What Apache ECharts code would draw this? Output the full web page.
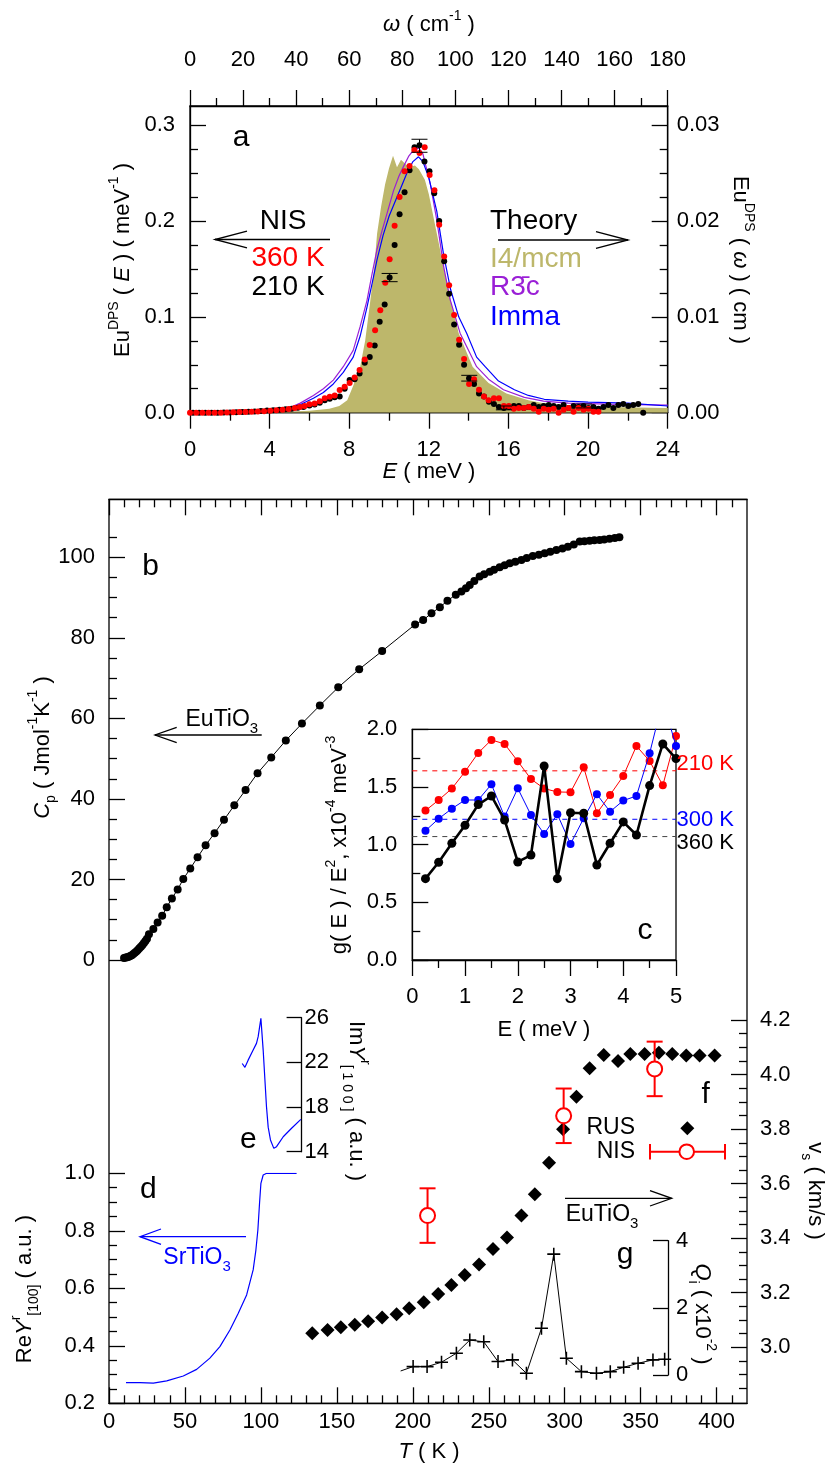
<!DOCTYPE html>
<html>
<head>
<meta charset="utf-8">
<script src="https://cdn.jsdelivr.net/npm/echarts@6/dist/echarts.min.js"></script>
<style>
html,body{margin:0;padding:0;background:#fff;overflow:hidden;}
#main{width:829px;height:1466px;}
</style>
</head>
<body>
<div id="main"></div>
<script>
// ---------- panel a : Eu partial phonon DOS ----------
const ticksE = [0, 4, 8, 12, 16, 20, 24];
const ticksW = [0, 20, 40, 60, 80, 100, 120, 140, 160, 180];
const ticksA = [0, 0.1, 0.2, 0.3];
const ticksA2 = [0, 0.01, 0.02, 0.03];

const dos360 = [[0,0],[0.31,0],[0.62,0],[0.93,0],[1.24,0],[1.55,0],[1.86,0.0003],[2.17,0.0004],[2.48,0.0006],[2.79,0.0008],[3.1,0.001],[3.41,0.0013],[3.72,0.0016],[4.03,0.002],[4.34,0.0025],[4.65,0.003],[4.96,0.0038],[5.27,0.0048],[5.52,0.006],[5.76,0.007],[6.0,0.0087],[6.26,0.0097],[6.52,0.012],[6.77,0.015],[7.02,0.0167],[7.27,0.018],[7.52,0.0236],[7.77,0.027],[8.02,0.031],[8.27,0.0368],[8.52,0.0445],[8.78,0.0556],[9.03,0.0706],[9.3,0.086],[9.56,0.107],[9.81,0.1356],[10.03,0.16],[10.28,0.195],[10.53,0.225],[10.78,0.252],[11.03,0.2575],[11.27,0.274],[11.53,0.271],[11.79,0.277],[12.04,0.248],[12.28,0.232],[12.52,0.196],[12.77,0.163],[13.02,0.133],[13.27,0.102],[13.52,0.076],[13.77,0.056],[14.02,0.03],[14.27,0.035],[14.52,0.024],[14.77,0.017],[15.0,0.013],[15.27,0.015],[15.52,0.015],[15.77,0.007],[16.02,0.007],[16.27,0.004],[16.52,0.005],[16.77,0.005],[17.02,0.006],[17.27,0.004],[17.52,0.001],[17.77,0.004],[18.02,0.003],[18.27,0.004],[18.52,0.0],[18.77,0.003],[19.02,0.005],[19.27,0.001],[19.52,0.005],[19.77,0.003],[20.02,0.004],[20.27,0.001],[20.52,0.001]];

const dos210 = [[0.15,0],[0.46,0],[0.77,0],[1.08,0],[1.39,0],[1.7,0.0002],[2.01,0.0003],[2.32,0.0005],[2.63,0.0007],[2.94,0.001],[3.25,0.0013],[3.56,0.0018],[3.87,0.0022],[4.18,0.0026],[4.49,0.003],[4.8,0.0036],[5.11,0.0042],[5.42,0.0052],[5.7,0.006],[6.0,0.0075],[6.26,0.0085],[6.52,0.0105],[6.77,0.013],[7.02,0.0145],[7.27,0.016],[7.52,0.017],[7.77,0.025],[8.02,0.034],[8.27,0.035],[8.52,0.041],[8.78,0.052],[9.03,0.058],[9.28,0.07],[9.53,0.095],[9.78,0.113],[10.03,0.141],[10.28,0.175],[10.53,0.207],[10.78,0.23],[11.03,0.253],[11.28,0.277],[11.53,0.279],[11.78,0.262],[12.03,0.252],[12.27,0.229],[12.52,0.2],[12.77,0.158],[13.02,0.124],[13.27,0.092],[13.52,0.071],[13.77,0.05],[14.02,0.036],[14.27,0.03],[14.52,0.02],[14.77,0.017],[15.02,0.0115],[15.27,0.009],[15.52,0.006],[15.77,0.005],[16.02,0.006],[16.27,0.007],[16.52,0.007],[16.77,0.005],[17.02,0.006],[17.27,0.008],[17.52,0.006],[17.77,0.007],[18.02,0.008],[18.27,0.007],[18.52,0.006],[18.77,0.008],[19.02,0.005],[19.27,0.007],[19.52,0.006],[19.77,0.007],[20.02,0.005],[20.27,0.006],[20.52,0.004],[20.77,0.006],[21.02,0.008],[21.27,0.005],[21.52,0.008],[21.77,0.009],[22.02,0.007],[22.27,0.008],[22.52,0.009],[22.77,0.0]];

// [E, value, error]
const err210 = [[10.03,0.141,0.0043],[11.53,0.2785,0.0068],[14.03,0.036,0.003],[15.77,0.005,0.002],[19.8,0.007,0.002]];

const dosI4mcm = [[0,0],[2,0],[4,0.0005],[5,0.001],[6,0.002],[6.5,0.003],[7,0.004],[7.5,0.007],[7.9,0.013],[8.2,0.028],[8.55,0.048],[8.8,0.075],[9.06,0.117],[9.25,0.15],[9.4,0.187],[9.6,0.215],[9.8,0.238],[10.0,0.255],[10.2,0.268],[10.4,0.256],[10.6,0.264],[10.8,0.26],[11.0,0.256],[11.3,0.258],[11.5,0.254],[11.8,0.243],[12.0,0.228],[12.4,0.187],[12.74,0.152],[13.1,0.117],[13.5,0.083],[14.2,0.048],[15.0,0.031],[15.9,0.02],[17.0,0.013],[17.7,0.01],[19,0.007],[21,0.006],[24,0.005]];

const dosR3c = [[0,0],[2,0.0005],[4,0.002],[5,0.005],[5.54,0.01],[6.2,0.018],[6.7,0.025],[7.2,0.034],[7.7,0.048],[8.2,0.065],[8.55,0.09],[8.89,0.117],[9.15,0.145],[9.39,0.17],[9.65,0.19],[9.9,0.208],[10.23,0.232],[10.5,0.247],[10.73,0.257],[11.0,0.268],[11.23,0.274],[11.5,0.276],[11.7,0.27],[12.07,0.239],[12.4,0.201],[12.74,0.153],[13.07,0.118],[13.57,0.083],[14.4,0.048],[15.0,0.035],[15.75,0.024],[16.8,0.016],[17.76,0.012],[19,0.01],[21,0.009],[24,0.008]];

const dosImma = [[0,0],[2,0.0005],[4,0.002],[5,0.004],[5.5,0.008],[6.2,0.015],[6.7,0.021],[7.2,0.03],[7.7,0.042],[8.2,0.058],[8.55,0.08],[8.89,0.11],[9.15,0.135],[9.4,0.16],[9.7,0.185],[10.0,0.205],[10.4,0.225],[10.6,0.235],[10.9,0.25],[11.2,0.262],[11.48,0.267],[11.7,0.262],[12.0,0.245],[12.4,0.21],[12.74,0.165],[13.1,0.128],[13.5,0.1],[13.9,0.083],[14.4,0.058],[14.83,0.048],[15.5,0.033],[16.3,0.024],[17.0,0.018],[17.8,0.014],[19,0.012],[20,0.011],[22,0.01],[24,0.007]];

// ---------- panel b : heat capacity ----------
const ticksT = [0, 50, 100, 150, 200, 250, 300, 350, 400];
const ticksCp = [0, 20, 40, 60, 80, 100];
const cpT = [9.9,11,12,13,14,15,16,17,18,19,20,21,22,23,24,25,26.3,29.2,32,35,38,41.4,45.2,48.9,53.5,58.3,63.6,69.5,75.7,82.5,89.9,97.8,106.8,116.4,127,138.8,150.9,164.7,179.8,201.5,206.8,212.3,217.8,222.8,228.3,232,235,237.5,240.5,244,247,250.7,253.5,257.2,260.5,263.8,267.5,271.5,275,279,283,286.8,290.5,294.5,298.5,302.1,306,309.9,313,316.4,319.5,323,326,329.5,333,336];
const cpV = [0.5,0.6,0.7,0.8,1.0,1.2,1.5,1.8,2.1,2.5,2.9,3.3,3.7,4.2,4.7,5.3,6.4,7.7,9.3,11.0,13.1,15.3,17.5,20.1,22.7,25.5,28.5,31.5,34.8,38.4,42.2,46.4,50.3,54.5,58.7,63.2,67.7,72.2,76.7,83.3,84.4,86.1,87.6,89.2,90.7,91.5,92.3,93.1,94.1,95.2,95.8,96.4,96.9,97.5,98.0,98.5,98.9,99.3,99.8,100.3,100.6,101.0,101.4,101.8,102.2,102.6,103.2,103.9,104.0,104.1,104.2,104.3,104.4,104.6,104.8,105.0];

// ---------- panel c : g(E)/E^2 inset ----------
const ticksC = [0, 1, 2, 3, 4, 5];
const ticksG = [0, 0.5, 1.0, 1.5, 2.0];
const cE = [0.25,0.5,0.75,1.0,1.25,1.5,1.75,2.0,2.25,2.5,2.75,3.0,3.25,3.5,3.75,4.0,4.25,4.5,4.75,5.0];
const c210 = [1.295,1.387,1.486,1.633,1.795,1.908,1.873,1.723,1.569,1.486,1.457,1.454,1.671,1.272,1.431,1.595,1.855,1.725,1.514,1.942];
const c300 = [1.121,1.225,1.312,1.387,1.387,1.523,1.243,1.488,1.257,1.092,1.263,1.006,1.228,1.436,1.286,1.382,1.422,1.792,2.25,1.855];
const c360 = [0.705,0.847,1.012,1.168,1.347,1.422,1.214,0.85,0.91,1.682,0.705,1.277,1.272,0.824,1.012,1.197,1.084,1.512,1.873,1.746];
const cLevels = [1.64, 1.22, 1.07];   // 210 K, 300 K, 360 K

// ---------- panel d : Re Y (SrTiO3) ----------
const ticksD = [0.2, 0.4, 0.6, 0.8, 1.0];
const dT = [11.2,20.4,29.2,38,48.9,57.7,66.4,73,79.6,85.1,90.6,94.9,96.7,98,99.1,100,101.5,103.8,123.5];
const dV = [0.272,0.272,0.27,0.278,0.295,0.318,0.357,0.397,0.455,0.513,0.577,0.664,0.733,0.803,0.896,0.965,0.994,1.0,1.0];

// ---------- panel e : Im Y (SrTiO3) ----------
const ticksIm = [14, 18, 22, 26];
const eT = [87.7,89.5,91.6,94.5,97.1,98.2,100,101.5,103.7,104.8,106.3,108.5,110.3,114.7,120.2,126.3];
const eV = [21.9,21.56,22.2,23.0,23.7,24.3,25.94,23.1,18.0,16.2,15.05,14.3,14.45,15.34,16.1,16.9];

// ---------- panel f : sound velocity ----------
const ticksVs = [3.0, 3.2, 3.4, 3.6, 3.8, 4.0, 4.2];
const rusT = [133.8,143.9,152.6,161.8,170.6,179.8,189.3,197.6,207.2,216.7,225.4,234.2,243.6,252.8,262,271.5,280.3,289.7,298.9,307.7,316.4,325.7,335.1,343.2,352.6,362,370.8,380,388.8,398.7];
const rusV = [3.051,3.063,3.073,3.083,3.095,3.109,3.121,3.143,3.165,3.195,3.228,3.265,3.304,3.36,3.403,3.483,3.561,3.677,3.8,3.919,4.023,4.072,4.05,4.076,4.076,4.08,4.076,4.07,4.07,4.07];
const nisT = [209.7, 299.3, 359.2];
const nisV = [3.483, 3.849, 4.021];
const nisErr = [0.1, 0.1, 0.1];

// ---------- panel g : internal friction ----------
const ticksQ = [0, 2, 4];
const qT = [192,200.2,209.4,218.9,228.7,237.5,246.7,256.1,265.6,274.8,284.7,292.8,301.1,311,320.9,330,338.8,348.3,358.1,365.8];
const qV = [0.12,0.25,0.25,0.38,0.65,1.04,0.99,0.4,0.45,0.05,1.39,3.6,0.5,0.1,0.05,0.1,0.23,0.35,0.45,0.47];

const FONT = '"Liberation Sans", Arial, Helvetica, sans-serif';
const INK = '#000';
const RED = '#ff0000';
const BLUE = '#0000ff';
const PURPLE = '#9a1fd6';
const KHAKI = '#bdb76b';
const CROSS = 'path://M0,4.4H10V5.6H0Z M4.4,0H5.6V10H4.4Z';

const zip = (a, b) => a.map((v, i) => [v, b[i]]);

function fmt(list, dec) {
  return v => list.some(t => Math.abs(t - v) < 1e-6) ? Number(v).toFixed(dec) : '';
}

function axis(o) {
  const base = {
    type: 'value',
    axisLine: { show: true, onZero: false, lineStyle: { color: INK, width: 1.3 } },
    axisTick: { show: true, inside: true, length: 16, lineStyle: { color: INK, width: 1.3 } },
    minorTick: { show: false, splitNumber: 2, length: 8, lineStyle: { color: INK, width: 1.3 } },
    splitLine: { show: false },
    minorSplitLine: { show: false },
    axisLabel: { show: true, color: INK, fontSize: 22, fontFamily: FONT, margin: 10 },
  };
  for (const k in o) {
    if (base[k] && typeof base[k] === 'object' && !Array.isArray(o[k])) base[k] = Object.assign({}, base[k], o[k]);
    else base[k] = o[k];
  }
  return base;
}
function hiddenX(grid, max) {
  return { type: 'value', gridIndex: grid, min: 0, max: max, show: false };
}
function grid(left, top, width, height, extra) {
  return Object.assign({ left, top, width, height, containLabel: false, outerBoundsMode: 'none', show: false }, extra || {});
}
const boxed = { show: true, borderColor: INK, borderWidth: 1.3, backgroundColor: 'transparent' };

function errBar(cap, color, width) {
  return function (params, api) {
    const x = api.value(0), y = api.value(1), e = api.value(2);
    const hi = api.coord([x, y + e]), lo = api.coord([x, y - e]);
    const style = { stroke: color, lineWidth: width, fill: null };
    return {
      type: 'group', children: [
        { type: 'line', shape: { x1: hi[0], y1: hi[1], x2: lo[0], y2: lo[1] }, style },
        { type: 'line', shape: { x1: hi[0] - cap, y1: hi[1], x2: hi[0] + cap, y2: hi[1] }, style },
        { type: 'line', shape: { x1: lo[0] - cap, y1: lo[1], x2: lo[0] + cap, y2: lo[1] }, style },
      ]
    };
  };
}

// text helper (rich: sup / sub / it)
function lab(x, y, text, o) {
  o = o || {};
  const fs = o.size || 22, c = o.color || INK, sm = Math.round(fs * 0.64);
  return {
    type: 'text', x, y, rotation: o.rot || 0, silent: true, z: 100,
    style: {
      text, fill: c, fontSize: fs, fontFamily: FONT,
      align: o.align || 'center', verticalAlign: 'middle',
      textAlign: o.align || 'center', textVerticalAlign: 'middle',
      lineHeight: fs + 10,
      rich: {
        sup: { fontSize: sm, fontFamily: FONT, fill: c, color: c, verticalAlign: 'top', lineHeight: sm },
        sub: { fontSize: sm, fontFamily: FONT, fill: c, color: c, verticalAlign: 'bottom', lineHeight: sm },
        it: { fontSize: fs, fontFamily: FONT, fontStyle: 'italic', fill: c, color: c },
      }
    }
  };
}
function arrow(x1, x2, y, dir, head, half, color) {
  const c = color || INK;
  const tip = dir === 'left' ? x1 : x2;
  const back = dir === 'left' ? x1 + head : x2 - head;
  const st = { stroke: c, lineWidth: 1.3, fill: null };
  return {
    type: 'group', silent: true, z: 100, children: [
      { type: 'line', shape: { x1, y1: y, x2, y2: y }, style: st },
      { type: 'polyline', shape: { points: [[back, y - half], [tip, y], [back, y + half]] }, style: st },
    ]
  };
}

const chart = echarts.init(document.getElementById('main'));

const option = {
  animation: false,
  backgroundColor: '#fff',
  textStyle: { fontFamily: FONT },
  grid: [
    grid(190, 106, 477.7, 306.7, boxed),          // 0 panel a
    grid(109, 499.3, 638, 904, boxed),             // 1 lower frame
    grid(109, 533.1, 638, 426.9),                  // 2 Cp
    grid(109, 1173.3, 638, 230),                   // 3 Re Y
    grid(109, 1020.1, 638, 381.7),                 // 4 v_s
    grid(109, 1017.7, 192.6, 134),                 // 5 Im Y
    grid(109, 1240.7, 559, 134.3),                 // 6 Q
    grid(412.3, 729.3, 263.7, 230.7, Object.assign({}, boxed, { backgroundColor: '#fff' })), // 7 inset c
  ],
  xAxis: [
    axis({ gridIndex: 0, position: 'bottom', min: 0, max: 24, interval: 4,
      axisTick: { inside: false, customValues: ticksE }, minorTick: { show: true, splitNumber: 2 },
      axisLabel: { margin: 26, customValues: ticksE, formatter: fmt(ticksE, 0) } }),
    axis({ gridIndex: 0, position: 'top', min: 0, max: 180, interval: 20,
      axisTick: { inside: false, customValues: ticksW }, minorTick: { show: true, splitNumber: 2 },
      axisLabel: { margin: 35, customValues: ticksW, formatter: fmt(ticksW, 0) } }),
    axis({ gridIndex: 1, position: 'bottom', min: 0, max: 420, interval: 50,
      axisTick: { inside: true, customValues: ticksT }, minorTick: { show: true, splitNumber: 5 },
      axisLabel: { margin: 8, customValues: ticksT, formatter: fmt(ticksT, 0) } }),
    axis({ gridIndex: 1, position: 'top', min: 0, max: 420, interval: 50,
      axisTick: { inside: true, customValues: ticksT }, minorTick: { show: true, splitNumber: 5 },
      axisLabel: { show: false } }),
    hiddenX(2, 420), hiddenX(3, 420), hiddenX(4, 420), hiddenX(5, 126.8), hiddenX(6, 368),
    axis({ gridIndex: 7, position: 'bottom', min: 0, max: 5, interval: 1,
      axisTick: { inside: false, customValues: ticksC }, minorTick: { show: true, splitNumber: 2 },
      axisLabel: { margin: 26, customValues: ticksC, formatter: fmt(ticksC, 0) } }),
  ],
  yAxis: [
    axis({ gridIndex: 0, position: 'left', min: 0, max: 0.32, interval: 0.1,
      axisTick: { inside: true, customValues: ticksA }, minorTick: { show: true, splitNumber: 4 },
      axisLabel: { margin: 15, customValues: ticksA, formatter: fmt(ticksA, 1) } }),
    axis({ gridIndex: 0, position: 'right', min: 0, max: 0.032, interval: 0.01,
      axisTick: { inside: true, customValues: ticksA2 }, minorTick: { show: true, splitNumber: 4 },
      axisLabel: { margin: 9, customValues: ticksA2, formatter: fmt(ticksA2, 2) } }),
    { type: 'value', gridIndex: 1, show: false, min: 0, max: 1 },
    axis({ gridIndex: 2, position: 'left', min: 0, max: 106, interval: 20, axisLine: { show: false },
      axisTick: { inside: true, customValues: ticksCp }, minorTick: { show: true, splitNumber: 4 },
      axisLabel: { margin: 14, customValues: ticksCp, formatter: fmt(ticksCp, 0) } }),
    axis({ gridIndex: 3, position: 'left', min: 0.2, max: 1.0, interval: 0.2, axisLine: { show: false },
      axisTick: { inside: true, customValues: ticksD }, minorTick: { show: true, splitNumber: 4 },
      axisLabel: { margin: 14, customValues: ticksD, formatter: fmt(ticksD, 1) } }),
    axis({ gridIndex: 4, position: 'right', min: 2.8, max: 4.2, interval: 0.2, axisLine: { show: false },
      axisTick: { inside: true, customValues: ticksVs }, minorTick: { show: true, splitNumber: 4 },
      axisLabel: { margin: 13, customValues: ticksVs, formatter: fmt(ticksVs, 1) } }),
    axis({ gridIndex: 5, position: 'right', min: 14, max: 26, interval: 4,
      axisTick: { inside: true, length: 15, customValues: ticksIm },
      axisLabel: { margin: 3, customValues: ticksIm, formatter: fmt(ticksIm, 0) } }),
    axis({ gridIndex: 6, position: 'right', min: 0, max: 4, interval: 2,
      axisTick: { inside: true, length: 15, customValues: ticksQ },
      axisLabel: { margin: 8, customValues: ticksQ, formatter: fmt(ticksQ, 0) } }),
    axis({ gridIndex: 7, position: 'left', min: 0, max: 2, interval: 0.5,
      axisTick: { inside: true, customValues: ticksG }, minorTick: { show: true, splitNumber: 2 },
      axisLabel: { margin: 15, customValues: ticksG, formatter: fmt(ticksG, 1) } }),
  ],
  series: [
    // a
    { type: 'line', name: 'I4/mcm', xAxisIndex: 0, yAxisIndex: 0, data: dosI4mcm, symbol: 'none',
      lineStyle: { width: 0 }, areaStyle: { color: KHAKI, opacity: 1 }, silent: true, z: 1 },
    { type: 'line', name: 'R-3c', xAxisIndex: 0, yAxisIndex: 0, data: dosR3c, symbol: 'none',
      lineStyle: { color: PURPLE, width: 1.2 }, silent: true, z: 2 },
    { type: 'line', name: 'Imma', xAxisIndex: 0, yAxisIndex: 0, data: dosImma, symbol: 'none',
      lineStyle: { color: BLUE, width: 1.2 }, silent: true, z: 2 },
    { type: 'scatter', name: '210 K', xAxisIndex: 0, yAxisIndex: 0, data: dos210, symbolSize: 6,
      itemStyle: { color: INK, opacity: 1 }, silent: true, z: 3 },
    { type: 'scatter', name: '360 K', xAxisIndex: 0, yAxisIndex: 0, data: dos360, symbolSize: 6,
      itemStyle: { color: RED, opacity: 1 }, silent: true, z: 4 },
    { type: 'custom', name: '210 K err', xAxisIndex: 0, yAxisIndex: 0, data: err210,
      renderItem: errBar(8, INK, 1), silent: true, z: 5 },
    // b
    { type: 'line', name: 'Cp', xAxisIndex: 4, yAxisIndex: 3, data: zip(cpT, cpV),
      symbol: 'circle', symbolSize: 8, showSymbol: true, clip: false,
      itemStyle: { color: INK, opacity: 1 }, lineStyle: { color: INK, width: 1 }, silent: true },
    // c
    ...cLevels.map((l, i) => ({ type: 'line', xAxisIndex: 9, yAxisIndex: 8, data: [[0, l], [5, l]],
      symbol: 'none', lineStyle: { color: [RED, BLUE, '#444'][i], width: 1, type: [5, 5] }, silent: true, z: 1 })),
    { type: 'line', name: '210 K', xAxisIndex: 9, yAxisIndex: 8, data: zip(cE, c210), symbol: 'circle',
      symbolSize: 8, itemStyle: { color: RED, opacity: 1 }, lineStyle: { color: RED, width: 1 }, silent: true, z: 2 },
    { type: 'line', name: '300 K', xAxisIndex: 9, yAxisIndex: 8, data: zip(cE, c300), symbol: 'circle',
      symbolSize: 8, itemStyle: { color: BLUE, opacity: 1 }, lineStyle: { color: BLUE, width: 1 }, silent: true, z: 3 },
    { type: 'line', name: '360 K', xAxisIndex: 9, yAxisIndex: 8, data: zip(cE, c360), symbol: 'circle',
      symbolSize: 9, itemStyle: { color: INK, opacity: 1 }, lineStyle: { color: INK, width: 2.6 }, silent: true, z: 4 },
    // d
    { type: 'line', name: 'ReY', xAxisIndex: 5, yAxisIndex: 4, data: zip(dT, dV), symbol: 'none',
      lineStyle: { color: BLUE, width: 1.2 }, silent: true },
    // e
    { type: 'line', name: 'ImY', xAxisIndex: 7, yAxisIndex: 6, data: zip(eT, eV), symbol: 'none',
      lineStyle: { color: BLUE, width: 1.2 }, silent: true },
    // f
    { type: 'scatter', name: 'RUS', xAxisIndex: 6, yAxisIndex: 5, data: zip(rusT, rusV), symbol: 'diamond',
      symbolSize: 14, itemStyle: { color: INK, opacity: 1 }, silent: true, z: 3 },
    { type: 'custom', name: 'NIS err', xAxisIndex: 6, yAxisIndex: 5, data: nisT.map((t, i) => [t, nisV[i], nisErr[i]]),
      renderItem: errBar(8, RED, 2), silent: true, z: 4 },
    { type: 'scatter', name: 'NIS', xAxisIndex: 6, yAxisIndex: 5, data: zip(nisT, nisV), symbol: 'circle',
      symbolSize: 15, itemStyle: { color: '#fff', borderColor: RED, borderWidth: 2, opacity: 1 }, silent: true, z: 5 },
    // g
    { type: 'line', name: 'Qi', xAxisIndex: 8, yAxisIndex: 7,
      data: qT.map((t, i) => i === 0 ? { value: [t, qV[i]], symbol: 'none' } : [t, qV[i]]),
      symbol: CROSS, symbolSize: 13, itemStyle: { color: INK, opacity: 1 }, lineStyle: { color: INK, width: 1 }, silent: true },
  ],
  graphic: [
    // panel a
    lab(241, 138, 'a', { size: 30 }),
    lab(283, 221, 'NIS', { size: 28 }),
    lab(288, 258, '360 K', { size: 28, color: RED }),
    lab(288, 287, '210 K', { size: 28 }),
    arrow(215, 330, 239.5, 'left', 32, 8.3),
    lab(490, 221, 'Theory', { size: 28, align: 'left' }),
    arrow(498, 628, 240, 'right', 32, 8.3),
    lab(490, 259, 'I4/mcm', { size: 28, align: 'left', color: KHAKI }),
    lab(490, 287, 'R3\u0304c', { size: 28, align: 'left', color: PURPLE }),
    lab(490, 317, 'Imma', { size: 28, align: 'left', color: BLUE }),
    lab(429, 25, '{it|\u03c9} ( cm{sup|-1} )'),
    lab(429, 472, '{it|E} ( meV )'),
    lab(123, 260, 'Eu{sup|DPS} ( {it|E} ) ( meV{sup|-1} )', { rot: Math.PI / 2 }),
    lab(740, 260, 'Eu{sup|DPS} ( {it|\u03c9} ) ( cm )', { rot: -Math.PI / 2 }),
    // panel b
    lab(150.5, 567, 'b', { size: 30 }),
    lab(185.5, 719.5, 'EuTiO{sub|3}', { size: 23, align: 'left' }),
    arrow(155, 261.7, 735, 'left', 21.7, 7.7),
    lab(42.5, 747.5, '{it|C}{sub|p} ( Jmol{sup|-1}K{sup|-1} )', { rot: Math.PI / 2 }),
    // panel c
    lab(645, 931, 'c', { size: 30 }),
    lab(676.5, 764, '210 K', { align: 'left', color: RED }),
    lab(676.5, 820, '300 K', { align: 'left', color: BLUE }),
    lab(676.5, 842.5, '360 K', { align: 'left' }),
    lab(340, 845, 'g( E ) / E{sup|2}, x10{sup|-4} meV{sup|-3}', { rot: Math.PI / 2 }),
    lab(544, 1030, 'E ( meV )'),
    // panel d
    lab(148.3, 1189.5, 'd', { size: 30 }),
    arrow(140, 246, 1236.7, 'left', 21, 7.7, BLUE),
    lab(163.3, 1258, 'SrTiO{sub|3}', { size: 23, align: 'left', color: BLUE }),
    lab(25, 1289, 'Re{it|Y}{sup|r}{sub|[100]} ( a.u. )', { rot: Math.PI / 2 }),
    // panel e
    lab(248.3, 1139.5, 'e', { size: 30 }),
    lab(356, 1101, 'Im{it|Y}{sup|r}{sub|[ 1 0 0 ]} ( a.u. )', { rot: -Math.PI / 2 }),
    // panel f
    lab(705.7, 1094.5, 'f', { size: 30 }),
    lab(635, 1128, 'RUS', { size: 23, align: 'right' }),
    lab(635, 1152, 'NIS', { size: 23, align: 'right' }),
    { type: 'polygon', silent: true, z: 100, shape: { points: [[687.3, 1121.3], [694.3, 1128.3], [687.3, 1135.3], [680.3, 1128.3]] }, style: { fill: INK } },
    { type: 'line', silent: true, z: 100, shape: { x1: 650, y1: 1151.7, x2: 725, y2: 1151.7 }, style: { stroke: RED, lineWidth: 2 } },
    { type: 'line', silent: true, z: 100, shape: { x1: 650, y1: 1144, x2: 650, y2: 1159.4 }, style: { stroke: RED, lineWidth: 2 } },
    { type: 'line', silent: true, z: 100, shape: { x1: 725, y1: 1144, x2: 725, y2: 1159.4 }, style: { stroke: RED, lineWidth: 2 } },
    { type: 'circle', silent: true, z: 101, shape: { cx: 686.7, cy: 1151.7, r: 7.3 }, style: { fill: '#fff', stroke: RED, lineWidth: 2 } },
    arrow(565, 671.7, 1198.3, 'right', 21.7, 7.7),
    lab(565.7, 1215, 'EuTiO{sub|3}', { size: 23, align: 'left' }),
    lab(815, 1191, 'v{sub|s} ( km/s )', { rot: -Math.PI / 2 }),
    // panel g
    lab(625, 1255, 'g', { size: 30 }),
    lab(702, 1314, '{it|Q}{sub|i} ( x10{sup|-2} )', { rot: -Math.PI / 2 }),
    // shared T axis title
    lab(429, 1451.5, '{it|T} ( K )'),
  ],
};

chart.setOption(option);
window.addEventListener('resize', function () {
  chart.resize();
});
</script>
</body>
</html>
